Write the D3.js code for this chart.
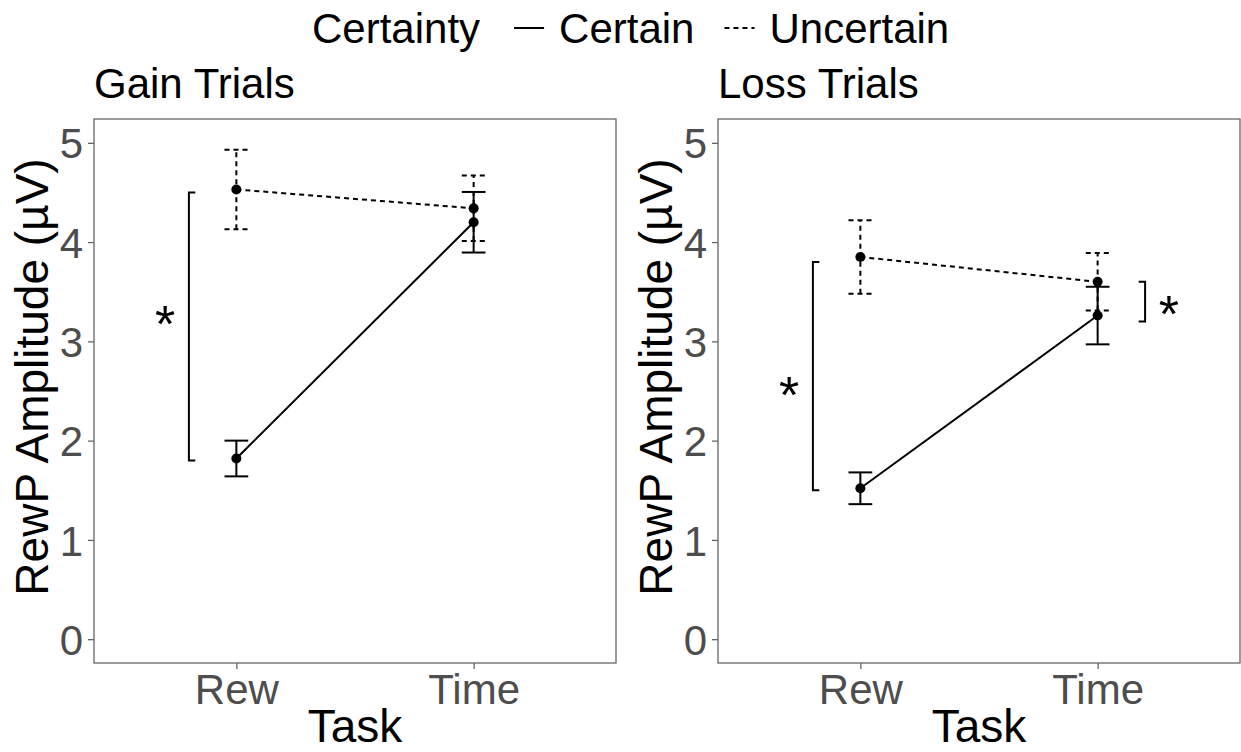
<!DOCTYPE html>
<html>
<head>
<meta charset="utf-8">
<script src="https://cdn.jsdelivr.net/npm/d3@7"></script>
<style>
  body { margin: 0; background: #fff; }
  text { font-family: "Liberation Sans", Arial, sans-serif; }
</style>
</head>
<body>
<svg id="chart" width="1241" height="752"></svg>
<script>
const tasks = ["Rew", "Time"];
const certainty = ["Certain", "Uncertain"];

// means and standard errors
const gainCertain = [1.82, 4.20];
const gainCertainSe = [0.18, 0.305];
const gainUncertain = [4.53, 4.34];
const gainUncertainSe = [0.40, 0.33];
const lossCertain = [1.52, 3.26];
const lossCertainSe = [0.16, 0.29];
const lossUncertain = [3.85, 3.60];
const lossUncertainSe = [0.37, 0.29];

const yTicks = [0, 1, 2, 3, 4, 5];

// significance brackets: x position, y range, tick side, star position
const gainBrackets = [{ x: 0.8, lo: 1.8, hi: 4.5, dir: 1, sx: 0.7, sy: 3.29 }];
const lossBrackets = [
    { x: 0.8, lo: 1.5, hi: 3.8, dir: 1, sx: 0.7, sy: 2.575 },
    { x: 2.2, lo: 3.2, hi: 3.6, dir: -1, sx: 2.3, sy: 3.39 }
];

const panels = [
    { title: "Gain Trials", left: 94, means: [gainCertain, gainUncertain], ses: [gainCertainSe, gainUncertainSe], brackets: gainBrackets },
    { title: "Loss Trials", left: 718, means: [lossCertain, lossUncertain], ses: [lossCertainSe, lossUncertainSe], brackets: lossBrackets }
];

const svg = d3.select("#chart");
const panelW = 522, panelTop = 119, panelBottom = 663;
const fs = 42;       // tick labels, titles, legend
const fsAxis = 46;   // axis titles
const fsStar = 52;
const dashes = { Certain: null, Uncertain: "5,4" };
const ink = "#000";
const grey = "#666";

const y = d3.scaleLinear().domain([-0.24, 5.24]).range([panelBottom, panelTop]);

panels.forEach(p => {
    const x = d3.scaleLinear().domain([0.4, 2.6]).range([p.left, p.left + panelW]);
    const g = svg.append("g");

    g.append("rect")
        .attr("x", p.left).attr("y", panelTop)
        .attr("width", panelW).attr("height", panelBottom - panelTop)
        .attr("fill", "none").attr("stroke", grey).attr("stroke-width", 1.3);

    // y axis
    const yAxis = g.append("g")
        .attr("transform", `translate(${p.left},0)`)
        .call(d3.axisLeft(y).tickValues(yTicks).tickSize(6).tickPadding(5).tickFormat(d3.format("d")));
    yAxis.select(".domain").remove();
    yAxis.selectAll("line").attr("stroke", grey).attr("stroke-width", 1.3);
    yAxis.selectAll("text").attr("fill", "#4d4d4d").attr("font-size", fs)
        .attr("font-family", "Liberation Sans, Arial, sans-serif").attr("dy", "0.36em");

    // x axis
    const xAxis = g.append("g")
        .attr("transform", `translate(0,${panelBottom})`)
        .call(d3.axisBottom(x).tickValues([1, 2]).tickSize(6).tickPadding(5).tickFormat(d => tasks[d - 1]));
    xAxis.select(".domain").remove();
    xAxis.selectAll("line").attr("stroke", grey).attr("stroke-width", 1.3);
    xAxis.selectAll("text").attr("fill", "#4d4d4d").attr("font-size", fs)
        .attr("font-family", "Liberation Sans, Arial, sans-serif").attr("dy", "0.71em");

    // titles
    g.append("text").attr("x", p.left).attr("y", 98)
        .attr("font-size", fs).attr("fill", ink).text(p.title);
    g.append("text").attr("x", p.left + panelW / 2).attr("y", 742)
        .attr("text-anchor", "middle").attr("font-size", fsAxis).attr("fill", ink).text("Task");
    g.append("text")
        .attr("transform", `translate(${p.left - 46},${(panelTop + panelBottom) / 2 - 14}) rotate(-90)`)
        .attr("text-anchor", "middle").attr("font-size", fsAxis).attr("fill", ink)
        .text("RewP Amplitude (µV)");

    // series
    certainty.forEach((c, ci) => {
        const pts = tasks.map((t, ti) => ({ x: ti + 1, m: p.means[ci][ti], se: p.ses[ci][ti] }));
        const line = d3.line().x(d => x(d.x)).y(d => y(d.m));
        g.append("path").datum(pts)
            .attr("d", line).attr("fill", "none").attr("stroke", ink)
            .attr("stroke-width", 2).attr("stroke-dasharray", dashes[c]);

        const eb = g.append("g").selectAll("g").data(pts).join("g")
            .attr("stroke", ink).attr("stroke-width", 2).attr("stroke-dasharray", dashes[c]);
        eb.append("line")
            .attr("x1", d => x(d.x)).attr("x2", d => x(d.x))
            .attr("y1", d => y(d.m - d.se)).attr("y2", d => y(d.m + d.se));
        eb.append("line")
            .attr("x1", d => x(d.x - 0.05)).attr("x2", d => x(d.x + 0.05))
            .attr("y1", d => y(d.m + d.se)).attr("y2", d => y(d.m + d.se));
        eb.append("line")
            .attr("x1", d => x(d.x - 0.05)).attr("x2", d => x(d.x + 0.05))
            .attr("y1", d => y(d.m - d.se)).attr("y2", d => y(d.m - d.se));

        g.append("g").selectAll("circle").data(pts).join("circle")
            .attr("cx", d => x(d.x)).attr("cy", d => y(d.m)).attr("r", 5).attr("fill", ink);
    });

    // brackets
    p.brackets.forEach(b => {
        const tick = 0.027 * b.dir;
        g.append("path")
            .attr("d", `M${x(b.x + tick)},${y(b.hi)}H${x(b.x)}V${y(b.lo)}H${x(b.x + tick)}`)
            .attr("fill", "none").attr("stroke", ink).attr("stroke-width", 2);
        g.append("text")
            .attr("x", x(b.sx)).attr("y", y(b.sy)).attr("dy", "0.57em")
            .attr("text-anchor", "middle").attr("font-size", fsStar).attr("fill", ink).text("*");
    });
});

// legend
const legend = svg.append("g").attr("font-size", fs).attr("fill", ink);
let lx = 312;
const ly = 43;
const t0 = legend.append("text").attr("x", lx).attr("y", ly).text("Certainty");
lx += t0.node().getComputedTextLength() + 34;
certainty.forEach(c => {
    legend.append("line")
        .attr("x1", lx).attr("x2", lx + 30).attr("y1", ly - 15).attr("y2", ly - 15)
        .attr("stroke", ink).attr("stroke-width", 2).attr("stroke-dasharray", dashes[c]);
    lx += 45;
    const t = legend.append("text").attr("x", lx).attr("y", ly).text(c);
    lx += t.node().getComputedTextLength() + 30;
});
</script>
</body>
</html>
